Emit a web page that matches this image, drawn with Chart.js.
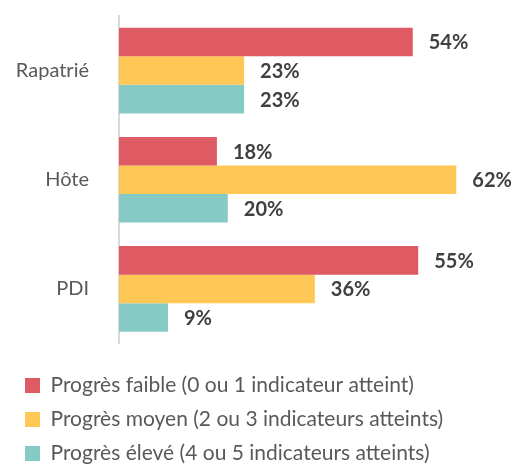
<!DOCTYPE html>
<html>
<head>
<meta charset="utf-8">
<script src="https://cdn.jsdelivr.net/npm/chart.js@4/dist/chart.umd.min.js"></script>
<style>
  html, body { margin: 0; padding: 0; overflow: hidden; background: #fff; }
  #wrap { width: 528px; height: 474px; }
</style>
</head>
<body>
<div id="wrap"><canvas id="chart"></canvas></div>
<script>
const categories = ["Rapatrié", "Hôte", "PDI"];
const seriesNames = [
  "Progrès faible (0 ou 1 indicateur atteint)",
  "Progrès moyen (2 ou 3 indicateurs atteints)",
  "Progrès élevé (4 ou 5 indicateurs atteints)",
];
const lowValues = [54, 18, 55];
const midValues = [23, 62, 36];
const highValues = [23, 20, 9];
const colors = ["#DE5B63", "#FEC756", "#86CAC5"];

// draws "54%" etc. just past the end of each bar
const valueLabels = {
  id: "valueLabels",
  afterDatasetsDraw(chart) {
    const ctx = chart.ctx;
    ctx.save();
    ctx.font = "bold 20px Lato";
    ctx.fillStyle = "#404040";
    ctx.textAlign = "left";
    ctx.textBaseline = "middle";
    chart.data.datasets.forEach((ds, i) => {
      chart.getDatasetMeta(i).data.forEach((bar, j) => {
        ctx.fillText(ds.data[j] + "%", bar.x + 16, bar.y + 1);
      });
    });
    ctx.restore();
  },
};

new Chart(document.getElementById("chart"), {
  type: "bar",
  data: {
    labels: categories,
    datasets: [
      { label: seriesNames[0], data: lowValues, backgroundColor: colors[0] },
      { label: seriesNames[1], data: midValues, backgroundColor: colors[1] },
      { label: seriesNames[2], data: highValues, backgroundColor: colors[2] },
    ],
  },
  options: {
    indexAxis: "y",
    responsive: true,
    maintainAspectRatio: false,
    animation: false,
    layout: { padding: { top: 16, left: 12, right: 1, bottom: 0 } },
    datasets: { bar: { barPercentage: 1, categoryPercentage: 0.785 } },
    scales: {
      x: { display: false, min: 0, max: 75 },
      y: {
        grid: { display: false, drawTicks: false },
        border: { display: true, color: "#d9d9d9", width: 2 },
        ticks: { color: "#595959", font: { family: "Lato", size: 20 }, padding: 30 },
        afterFit(scale) {
          scale.width = 107;
          // tick padding would otherwise push the plot down
          scale.paddingTop = 0;
          scale.paddingBottom = 0;
        },
      },
    },
    plugins: {
      tooltip: { enabled: false },
      legend: {
        position: "bottom",
        align: "start",
        title: { display: true, text: "", font: { size: 10 }, padding: { top: 0, bottom: 6.5 } },
        labels: {
          boxWidth: 15,
          boxHeight: 15,
          padding: 13,
          color: "#595959",
          font: { family: "Lato", size: 21 },
        },
      },
    },
  },
  plugins: [valueLabels],
});
</script>
</body>
</html>
